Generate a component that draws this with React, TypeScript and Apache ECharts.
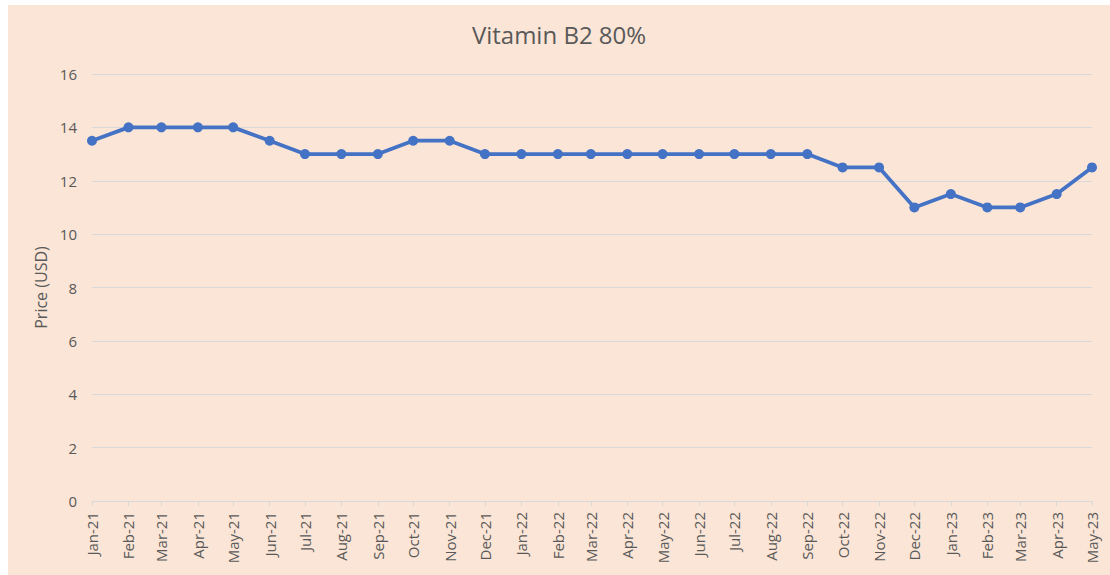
import React, { useEffect, useRef } from "react";
import * as echarts from "echarts";

const monthNames = ["Jan", "Feb", "Mar", "Apr", "May", "Jun", "Jul", "Aug", "Sep", "Oct", "Nov", "Dec"];

// month starts: [year, monthIndex]
const months: [number, number][] = [
  [2021, 0], [2021, 1], [2021, 2], [2021, 3], [2021, 4], [2021, 5], [2021, 6], [2021, 7], [2021, 8], [2021, 9], [2021, 10], [2021, 11],
  [2022, 0], [2022, 1], [2022, 2], [2022, 3], [2022, 4], [2022, 5], [2022, 6], [2022, 7], [2022, 8], [2022, 9], [2022, 10], [2022, 11],
  [2023, 0], [2023, 1], [2023, 2], [2023, 3], [2023, 4],
];

const prices = [
  13.5, 14, 14, 14, 14, 13.5, 13, 13, 13, 13.5, 13.5, 13,
  13, 13, 13, 13, 13, 13, 13, 13, 13, 12.5, 12.5, 11,
  11.5, 11, 11, 11.5, 12.5,
];

const yTicks = [0, 2, 4, 6, 8, 10, 12, 14, 16];

const DAY = 86400000;
const t0 = Date.UTC(months[0][0], months[0][1], 1);
const dayIdx = months.map(([y, m]) => Math.round((Date.UTC(y, m, 1) - t0) / DAY));

function labelFor(day: number) {
  const d = new Date(t0 + day * DAY);
  return monthNames[d.getUTCMonth()] + "-" + String(d.getUTCFullYear()).slice(2);
}

export default function App() {
  const ref = useRef<HTMLDivElement>(null);
  useEffect(() => {
    if (!ref.current) return;
    const chart = echarts.init(ref.current, undefined, { renderer: "svg" });
    const textColor = "#595959";
    chart.setOption({
      animation: false,
      backgroundColor: "#FBE5D6",
      title: {
        text: "Vitamin B2 80%",
        left: "center",
        top: 12,
        textStyle: { fontFamily: "Open Sans", fontSize: 24, fontWeight: "normal", color: textColor },
      },
      grid: { left: 84, right: 18, top: 69, bottom: 74, containLabel: false },
      xAxis: {
        type: "value",
        min: dayIdx[0],
        max: dayIdx[dayIdx.length - 1],
        axisLine: { show: true, lineStyle: { color: "#D9D9D9", width: 1 } },
        axisTick: { show: true, length: 5, lineStyle: { color: "#D9D9D9" }, customValues: dayIdx },
        splitLine: { show: false },
        axisLabel: {
          customValues: dayIdx,
          rotate: 90,
          color: textColor,
          fontFamily: "Open Sans",
          fontSize: 15,
          margin: 11,
          formatter: (v: number) => labelFor(v),
        },
      },
      yAxis: {
        type: "value",
        min: yTicks[0],
        max: yTicks[yTicks.length - 1],
        interval: 2,
        name: "Price (USD)",
        nameLocation: "middle",
        nameGap: 43,
        nameTextStyle: { color: textColor, fontFamily: "Open Sans", fontSize: 16 },
        axisLine: { show: false },
        axisTick: { show: false },
        splitLine: { lineStyle: { color: "#D9D9D9", width: 1 } },
        axisLabel: { color: textColor, fontFamily: "Open Sans", fontSize: 15, margin: 15 },
      },
      series: [
        {
          type: "line",
          data: dayIdx.map((t, i) => [t, prices[i]]),
          symbol: "circle",
          symbolSize: 10,
          lineStyle: { color: "#4472C4", width: 3.75 },
          itemStyle: { color: "#4472C4" },
        },
      ],
    });
    return () => chart.dispose();
  }, []);
  return (
    <div
      ref={ref}
      style={{ position: "absolute", left: 8, top: 5, width: 1102, height: 570 }}
    />
  );
}
